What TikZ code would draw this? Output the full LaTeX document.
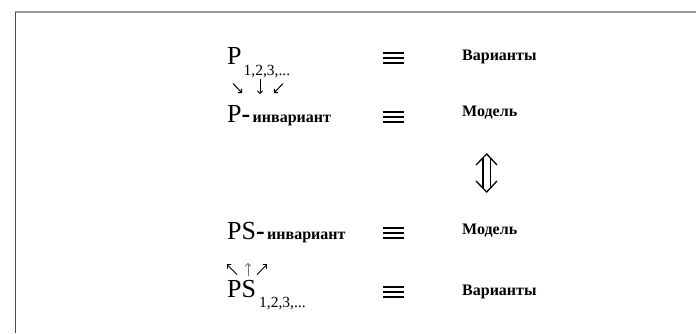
\documentclass[tikz,border=0pt]{standalone}
\usepackage{fontspec}
\setmainfont{Liberation Serif}
\usetikzlibrary{arrows.meta}
\tikzset{
  big/.style={anchor=base west, inner sep=0pt, font=\fontsize{26}{26}\selectfont},
  sub/.style={anchor=base west, inner sep=0pt, font=\fontsize{15.5}{16}\selectfont},
  lbl/.style={anchor=base west, inner sep=0pt, font=\fontsize{16}{16}\selectfont\bfseries},
  eqline/.style={line width=2pt, black},
  smallarrow/.style={line width=1pt, -{To[length=3.5pt,width=6pt]}},
  dblarrow/.style={line width=1.3pt, line join=miter},
  frametop/.style={line width=1.5pt, black!40},
  frameleft/.style={line width=1pt, black!70}
}
\begin{document}
\begin{tikzpicture}[x=1pt,y=-1pt]
\useasboundingbox (0,0) rectangle (696,333);
% frame
\coordinate (fc) at (15,12);
\coordinate (fr) at (696,12);
\coordinate (fb) at (15,333);
\draw[frametop] (fc) -- (fr);
\draw[frameleft] (fc) -- (fb);

% row 1
\node[big] (p1) at (227,64) {P};
\node[sub] (p1s) at (243.5,75) {1,2,3,...};
% row 2
\node[big] (p2) at (227,122) {P\textbf{-}};
\node[lbl] (p2i) at (252.5,122) {инвариант};
% row 3
\node[big] (ps3) at (227,239) {PS\textbf{-}};
\node[lbl] (ps3i) at (267,239) {инвариант};
% row 4
\node[big] (ps4) at (227,297) {PS};
\node[sub] (ps4s) at (259,307) {1,2,3,...};

% small arrows row 1
\coordinate (a1s) at (233,83.5); \coordinate (a1e) at (242,93);
\coordinate (a2s) at (260,79); \coordinate (a2e) at (260,94);
\coordinate (a3s) at (283,83.5); \coordinate (a3e) at (274,93);
\draw[smallarrow] (a1s) -- (a1e);
\draw[smallarrow] (a2s) -- (a2e);
\draw[smallarrow] (a3s) -- (a3e);
% small arrows row 3
\coordinate (b1s) at (237,274.5); \coordinate (b1e) at (227,264.5);
\coordinate (b2s) at (248,276); \coordinate (b2e) at (248,263);
\coordinate (b3s) at (257,274.5); \coordinate (b3e) at (267,264.5);
\draw[smallarrow] (b1s) -- (b1e);
\draw[smallarrow, black!55] (b2s) -- (b2e);
\draw[smallarrow] (b3s) -- (b3e);

% equivalence signs
\foreach \n/\y in {1/58, 2/117, 3/233, 4/292} {
  \coordinate (e\n l) at (383,\y);
  \coordinate (e\n r) at (404,\y);
  \draw[eqline] ([yshift=5pt]e\n l) -- ([yshift=5pt]e\n r);
  \draw[eqline] (e\n l) -- (e\n r);
  \draw[eqline] ([yshift=-5pt]e\n l) -- ([yshift=-5pt]e\n r);
}

% right labels
\node[lbl] (v1) at (462,60) {Варианты};
\node[lbl] (m2) at (462,116) {Модель};
\node[lbl] (m3) at (462,234) {Модель};
\node[lbl] (v4) at (462,295) {Варианты};

% double vertical arrow
\coordinate (dt) at (486.7,154);
\coordinate (db) at (486.7,192);
\draw[dblarrow] (476,165) -- (dt) -- (497,165);
\draw[dblarrow] (476,181) -- (db) -- (497,181);
\draw[dblarrow] (483,158) -- (483,188);
\draw[dblarrow] (490.5,158) -- (490.5,188);
\end{tikzpicture}
\end{document}
